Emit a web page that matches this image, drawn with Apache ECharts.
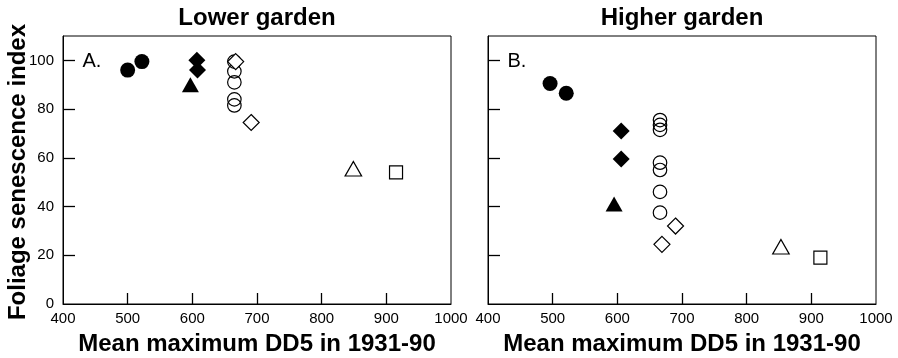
<!DOCTYPE html>
<html>
<head>
<meta charset="utf-8">
<script src="https://cdn.jsdelivr.net/npm/echarts@6/dist/echarts.min.js"></script>
<style>
html,body{margin:0;padding:0;background:#fff;}
#chart{width:898px;height:358px;}
</style>
</head>
<body>
<div id="chart"></div>
<script>
// ---- data ----
const panelTitles = ['Lower garden', 'Higher garden'];
const panelLetters = ['A.', 'B.'];
const xAxisTitle = 'Mean maximum DD5 in 1931-90';
const yAxisTitle = 'Foliage senescence index';
const xLabelValues = [400, 500, 600, 700, 800, 900, 1000];
const xTickValues = [500, 600, 700, 800, 900];
const yLabelValues = [0, 20, 40, 60, 80, 100];
const yTickValues = [20, 40, 60, 80, 100];

// Lower garden (panel A)
const filledCircleA = [[500, 96], [522, 99.5]];
const filledDiamondA = [[607, 100], [608, 96]];
const filledTriangleA = [[597, 90]];
const openCircleA = [[665, 99.5], [665, 95.5], [665, 91], [665, 84], [665, 81.5]];
const openDiamondA = [[667, 99.5], [691, 74.5]];
const openTriangleA = [[849, 55.5]];
const openSquareA = [[915, 54]];

// Higher garden (panel B)
const filledCircleB = [[496, 90.5], [521, 86.5]];
const filledDiamondB = [[606, 71], [606, 59.5]];
const filledTriangleB = [[595, 41]];
const openCircleB = [[666, 75.5], [666, 73.5], [666, 71.5], [666, 58], [666, 55], [666, 46], [666, 37.5]];
const openDiamondB = [[669, 24.5], [690, 32]];
const openTriangleB = [[853, 23.5]];
const openSquareB = [[914, 19]];

const panels = [
  {filledCircle: filledCircleA, filledDiamond: filledDiamondA, filledTriangle: filledTriangleA,
   openCircle: openCircleA, openDiamond: openDiamondA, openTriangle: openTriangleA, openSquare: openSquareA},
  {filledCircle: filledCircleB, filledDiamond: filledDiamondB, filledTriangle: filledTriangleB,
   openCircle: openCircleB, openDiamond: openDiamondB, openTriangle: openTriangleB, openSquare: openSquareB}
];

// ---- layout ----
const FONT = "'Liberation Sans', Arial, Helvetica, sans-serif";
const grids = [
  {left: 63, top: 36, width: 388, height: 268},
  {left: 488, top: 36, width: 388, height: 268}
];

const chart = echarts.init(document.getElementById('chart'), null, {renderer: 'canvas'});

const plain = v => String(v);
const xAxes = grids.map((g, i) => ({
  type: 'value', gridIndex: i, min: 400, max: 1000, interval: 100,
  axisLine: {show: true, onZero: false, lineStyle: {color: '#000', width: 1}},
  axisTick: {show: true, inside: true, length: 11, customValues: xTickValues, lineStyle: {color: '#000', width: 1.3}},
  axisLabel: {show: true, customValues: xLabelValues, formatter: plain, margin: 7, color: '#000', fontSize: 15, fontFamily: FONT, showMinLabel: true, showMaxLabel: true},
  splitLine: {show: false}
}));
const yAxes = grids.map((g, i) => ({
  type: 'value', gridIndex: i, min: 0, max: 110, interval: 10,
  axisLine: {show: true, onZero: false, lineStyle: {color: '#000', width: 1}},
  axisTick: {show: true, inside: true, length: 12, customValues: yTickValues, lineStyle: {color: '#000', width: 1.3}},
  axisLabel: {show: i === 0, customValues: yLabelValues, formatter: plain, margin: 9, color: '#000', fontSize: 15, fontFamily: FONT},
  splitLine: {show: false}
}));

const styles = {
  filledCircle: {symbol: 'circle', size: 15, fill: '#000', stroke: '#000', bw: 0},
  filledDiamond: {symbol: 'diamond', size: [17, 17], fill: '#000', stroke: '#000', bw: 0},
  filledTriangle: {symbol: 'triangle', size: [17, 15], fill: '#000', stroke: '#000', bw: 0},
  openCircle: {symbol: 'circle', size: 13.5, fill: 'rgba(0,0,0,0)', stroke: '#000', bw: 1.2},
  openDiamond: {symbol: 'diamond', size: [16, 16], fill: '#fff', stroke: '#000', bw: 1.2},
  openTriangle: {symbol: 'triangle', size: [16.5, 14.5], fill: '#fff', stroke: '#000', bw: 1.2},
  openSquare: {symbol: 'rect', size: [13, 13], fill: '#fff', stroke: '#000', bw: 1.2}
};
const order = ['filledCircle', 'filledDiamond', 'filledTriangle', 'openCircle', 'openDiamond', 'openTriangle', 'openSquare'];

const series = [];
panels.forEach((p, i) => {
  order.forEach((k, j) => {
    const s = styles[k];
    series.push({
      type: 'scatter', name: k + i, xAxisIndex: i, yAxisIndex: i,
      data: p[k], symbol: s.symbol, symbolSize: s.size, z: 2 + j,
      itemStyle: {color: s.fill, borderColor: s.stroke, borderWidth: s.bw, opacity: 1},
      emphasis: {disabled: true}, animation: false
    });
  });
});

const graphics = [];
const centers = grids.map(g => g.left + g.width / 2);
panelTitles.forEach((t, i) => {
  graphics.push({type: 'text', x: centers[i], y: 18, style: {text: t, font: 'bold 24px ' + FONT, fill: '#000', align: 'center', verticalAlign: 'middle'}});
  graphics.push({type: 'text', x: centers[i], y: 344, style: {text: xAxisTitle, font: 'bold 24px ' + FONT, fill: '#000', align: 'center', verticalAlign: 'middle'}});
  graphics.push({type: 'text', x: grids[i].left + 19.5, y: 61, style: {text: panelLetters[i], font: '20px ' + FONT, fill: '#000', align: 'left', verticalAlign: 'middle'}});
});
graphics.push({type: 'text', x: 18.5, y: 172, rotation: Math.PI / 2, style: {text: yAxisTitle, font: 'bold 24px ' + FONT, fill: '#000', align: 'center', verticalAlign: 'middle'}});

chart.setOption({
  animation: false,
  backgroundColor: '#fff',
  grid: grids.map(g => Object.assign({show: true, borderColor: '#000', borderWidth: 1, backgroundColor: 'transparent', containLabel: false}, g)),
  xAxis: xAxes,
  yAxis: yAxes,
  series: series,
  graphic: graphics
});
</script>
</body>
</html>
